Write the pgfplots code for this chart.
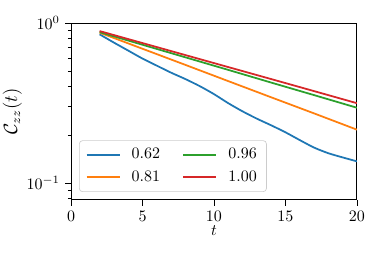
\documentclass[border=0pt]{standalone}
\usepackage{pgfplots}
\pgfplotsset{compat=1.18}
\definecolor{tabblue}{HTML}{1F77B4}
\definecolor{taborange}{HTML}{FF7F0E}
\definecolor{tabgreen}{HTML}{2CA02C}
\definecolor{tabred}{HTML}{D62728}
\begin{document}
\begin{tikzpicture}
\useasboundingbox (-44.4pt,-34.4pt) rectangle (194.4pt,125pt);
\begin{axis}[
  at={(0,0)}, anchor=south west,
  scale only axis, width=178.75pt, height=110.6pt,
  ymode=log, xmin=0, xmax=20, ymin=0.0787, ymax=1,
  xtick={0,5,10,15,20},
  tick align=outside, tick pos=left,
  major tick length=3.5pt, minor tick length=2pt,
  axis line style={line width=0.6pt},
  every tick/.style={line width=0.5pt, black},
  xlabel={$t$}, ylabel={$\mathcal{C}_{zz}(t)$},
  xlabel style={yshift=4.5pt},
  ylabel style={yshift=-4pt, font=\large},
  legend columns=2,
  legend cell align=left,
  legend style={at={(0.028,0.045)}, anchor=south west, draw=black!20, rounded corners=2pt,
    /tikz/every even column/.append style={column sep=12pt},
    inner xsep=4pt, inner ysep=3pt, row sep=2pt},
  legend image code/.code={\draw[#1] (0pt,0pt) -- (20.6pt,0pt);},
]
\addlegendimage{tabblue, line width=1.1pt}
\addlegendentry{\hspace{5pt}$0.62$}
\addlegendimage{tabgreen, line width=1.1pt}
\addlegendentry{\hspace{5pt}$0.96$}
\addlegendimage{taborange, line width=1.1pt}
\addlegendentry{\hspace{5pt}$0.81$}
\addlegendimage{tabred, line width=1.1pt}
\addlegendentry{\hspace{5pt}$1.00$}
\addplot[tabblue, line width=1.1pt, smooth, tension=0.4, forget plot] coordinates {
(2,0.850)(3,0.755)(4,0.673)(5,0.600)(6,0.542)(7,0.490)(8,0.447)(9,0.404)(10,0.360)
(11,0.316)(12,0.281)(13,0.253)(14,0.230)(15,0.208)(16,0.186)(17,0.167)(18,0.154)(19,0.145)(20,0.137)};
\addplot[taborange, line width=1.1pt, forget plot] coordinates {
(2,0.871)(5,0.691)(8,0.548)(11,0.434)(14,0.344)(17,0.273)(20,0.216)};
\addplot[tabgreen, line width=1.1pt, forget plot] coordinates {
(2,0.877)(5,0.732)(8,0.611)(11,0.510)(14,0.425)(17,0.355)(20,0.296)};
\addplot[tabred, line width=1.1pt, forget plot] coordinates {
(2,0.891)(5,0.750)(8,0.631)(11,0.531)(14,0.447)(17,0.376)(20,0.316)};
\end{axis}
\end{tikzpicture}
\end{document}
